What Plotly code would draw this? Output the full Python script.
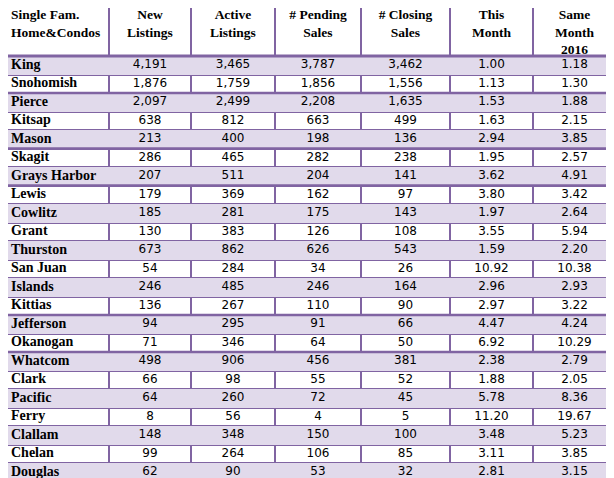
import plotly.graph_objects as go

headers = ["Single Fam.<br>Home&Condos", "New<br>Listings", "Active<br>Listings", "# Pending<br>Sales", "# Closing<br>Sales", "This<br>Month", "Same<br>Month<br>2016"]
counties = ["King","Snohomish","Pierce","Kitsap","Mason","Skagit","Grays Harbor","Lewis","Cowlitz","Grant","Thurston","San Juan","Islands","Kittias","Jefferson","Okanogan","Whatcom","Clark","Pacific","Ferry","Clallam","Chelan","Douglas"]
new_listings = ["4,191","1,876","2,097","638","213","286","207","179","185","130","673","54","246","136","94","71","498","66","64","8","148","99","62"]
active_listings = ["3,465","1,759","2,499","812","400","465","511","369","281","383","862","284","485","267","295","346","906","98","260","56","348","264","90"]
pending_sales = ["3,787","1,856","2,208","663","198","282","204","162","175","126","626","34","246","110","91","64","456","55","72","4","150","106","53"]
closing_sales = ["3,462","1,556","1,635","499","136","238","141","97","143","108","543","26","164","90","66","50","381","52","45","5","100","85","32"]
this_month = ["1.00","1.13","1.53","1.63","2.94","1.95","3.62","3.80","1.97","3.55","1.59","10.92","2.96","2.97","4.47","6.92","2.38","1.88","5.78","11.20","3.48","3.11","2.81"]
same_month_2016 = ["1.18","1.30","1.88","2.15","3.85","2.57","4.91","3.42","2.64","5.94","2.20","10.38","2.93","3.22","4.24","10.29","2.79","2.05","8.36","19.67","5.23","3.85","3.15"]

# layout constants (pixel-like units)
col_edges = [1, 105, 187, 271, 357, 446, 529, 612]
header_h = 52
row_h = 18.5
thick_after = [1, 4, 6, 13, 15]  # row indices followed by a thicker rule
page_offset = 4  # partial compensation for page body margin

shade = "#E1DAEB"
purple = "#8064A2"
n = len(counties)
row_edges = [1, header_h] + [header_h + row_h * (i + 1) for i in range(n)]
row_centers = [header_h + row_h * (i + 0.5) for i in range(n)]
col_centers = [(col_edges[j] + col_edges[j + 1]) / 2 for j in range(7)]

fig = go.Figure()
shaded = [i for i in range(n) if i % 2 == 0]
fig.add_trace(go.Bar(orientation="h", y=[row_centers[i] for i in shaded],
                     x=[col_edges[-1] - col_edges[0]] * len(shaded), base=col_edges[0],
                     width=row_h, marker=dict(color=shade, line=dict(width=0)),
                     hoverinfo="skip", showlegend=False))

hfont = dict(family="Liberation Serif", size=13.5, color="black")
fig.add_trace(go.Scatter(x=[col_edges[0] + 6], y=[page_offset + 1], mode="text", text=["<b>%s</b>" % headers[0]],
                         textposition="bottom right", textfont=hfont,
                         showlegend=False, hoverinfo="skip", cliponaxis=False))
fig.add_trace(go.Scatter(x=col_centers[1:], y=[page_offset + 1] * 6, mode="text",
                         text=["<b>%s</b>" % h for h in headers[1:]], textposition="bottom center",
                         textfont=hfont, showlegend=False, hoverinfo="skip", cliponaxis=False))
fig.add_trace(go.Scatter(x=[col_edges[0] + 6] * n, y=row_centers, mode="text",
                         text=["<b>%s</b>" % c for c in counties], textposition="middle right",
                         textfont=dict(family="Liberation Serif", size=14, color="black"),
                         showlegend=False, hoverinfo="skip", cliponaxis=False))
for j, col in enumerate([new_listings, active_listings, pending_sales, closing_sales, this_month, same_month_2016]):
    fig.add_trace(go.Scatter(x=[col_centers[j + 1]] * n, y=row_centers, mode="text", text=col,
                             textposition="middle center",
                             textfont=dict(family="DejaVu Sans", size=12, color="black"),
                             showlegend=False, hoverinfo="skip", cliponaxis=False))

fig.update_xaxes(range=[page_offset, 614 + page_offset], tickvals=col_edges, showgrid=True,
                 gridcolor=purple, gridwidth=1.5, showticklabels=False, zeroline=False, ticks="")
fig.update_yaxes(range=[478 + page_offset, page_offset], tickvals=row_edges, showgrid=True,
                 gridcolor=purple, gridwidth=1.5, showticklabels=False, zeroline=False, ticks="")
for y in [header_h] + [row_edges[i + 2] for i in thick_after]:
    fig.add_shape(type="line", x0=col_edges[0], x1=col_edges[-1], y0=y, y1=y,
                  line=dict(color=purple, width=3 if y == header_h else 2.5))
fig.update_layout(width=614, height=478, margin=dict(l=0, r=0, t=0, b=0, autoexpand=False),
                  paper_bgcolor="white", plot_bgcolor="white", bargap=0)
fig.write_html("out.html")
